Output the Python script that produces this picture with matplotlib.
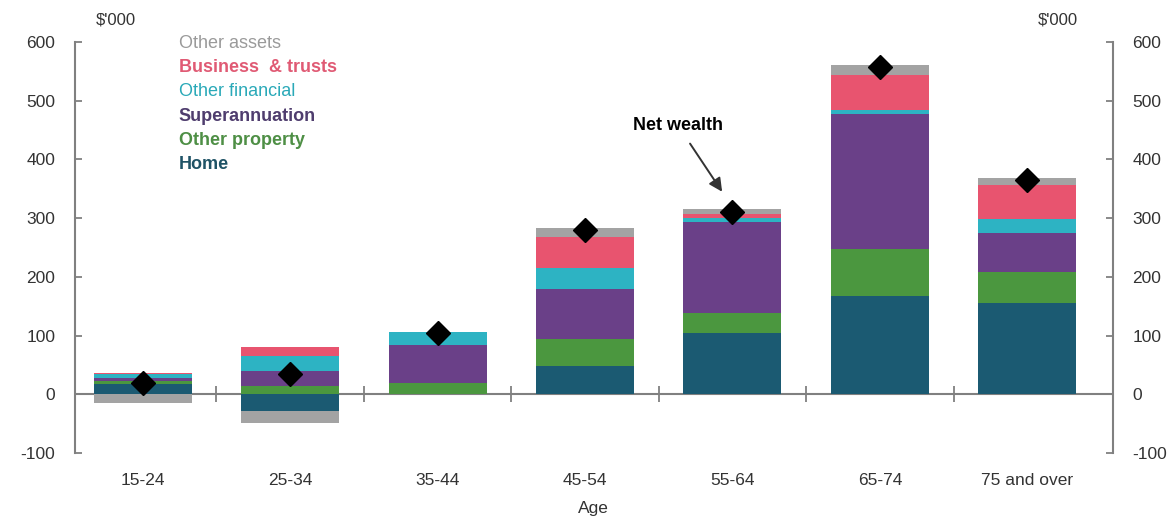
import numpy as np
import matplotlib.pyplot as plt

plt.rcParams['font.family'] = ['Liberation Sans', 'DejaVu Sans']
plt.rcParams['axes.unicode_minus'] = False

ages = ["15-24", "25-34", "35-44", "45-54", "55-64", "65-74", "75 and over"]

home = [17, -28, 0, 48, 104, 167, 155]
other_property = [5, 14, 20, 46, 34, 81, 53]
superannuation = [6, 26, 64, 85, 155, 230, 66]
other_financial = [6, 26, 22, 36, 7, 7, 24]
business = [2, 14, 0, 53, 7, 58, 58]
other_assets = [-15, -21, 0, 15, 8, 17, 12]
net_wealth = [20, 35, 104, 280, 311, 558, 365]

series = [
    ("Home", home, "#1b5a72"),
    ("Other property", other_property, "#4b973f"),
    ("Superannuation", superannuation, "#6a4088"),
    ("Other financial", other_financial, "#2db3c3"),
    ("Business  & trusts", business, "#e8546f"),
    ("Other assets", other_assets, "#a3a3a3"),
]
label_colors = {
    "Home": "#1f5366",
    "Other property": "#4e8f45",
    "Superannuation": "#4f3d6e",
    "Other financial": "#2aa9b8",
    "Business  & trusts": "#e05a74",
    "Other assets": "#9a9a9a",
}

fig = plt.figure(figsize=(11.69, 5.25), dpi=100)
ax = fig.add_axes([0.064, 0.137, 0.888, 0.783])

x = np.arange(len(ages))
pos_base = np.zeros(len(ages))
neg_base = np.zeros(len(ages))
for name, vals, color in series:
    vals = np.array(vals, dtype=float)
    base = np.where(vals >= 0, pos_base, neg_base)
    ax.bar(x, vals, bottom=base, width=0.665, color=color, zorder=2)
    pos_base += np.where(vals >= 0, vals, 0)
    neg_base += np.where(vals < 0, vals, 0)

ax.plot(x, net_wealth, linestyle="none", marker="D", markersize=12,
        color="black", zorder=4)

ax.annotate("Net wealth", xy=(4 - 0.07, 345), xytext=(4 - 0.37, 458),
            ha="center", va="center", fontsize=13, fontweight="bold",
            arrowprops=dict(arrowstyle="-|>", color="#333333", lw=1.4,
                            shrinkA=6, shrinkB=0, mutation_scale=20))

ax.set_xlim(-0.46, 6.58)
ax.set_ylim(-100, 600)
ax.set_yticks(range(-100, 601, 100))
ax.set_xticks(x)
ax.set_xticklabels(ages)

gray = "#808080"
for s in ["top", "bottom"]:
    ax.spines[s].set_visible(False)
for s in ["left", "right"]:
    ax.spines[s].set_color(gray)
    ax.spines[s].set_linewidth(1.5)

ax.tick_params(axis="y", direction="in", length=5, width=1.3, color=gray,
               labelsize=12.5, labelcolor="#333333", right=True, labelright=True,
               pad=14)
ax.tick_params(axis="x", length=0, labelsize=12.5, labelcolor="#333333", pad=14)

# zero line with category separators
ax.axhline(0, color=gray, lw=1.5, zorder=1)
sec = ax.secondary_xaxis(1 / 7)
sec.set_xticks(x[:-1] + 0.5)
sec.set_xticklabels([])
sec.spines["bottom"].set_visible(False)
sec.tick_params(direction="inout", length=12, width=1.3, color=gray)

ax.set_xlabel("Age", fontsize=12.5, color="#333333", labelpad=10)

fig.text(0.082, 0.953, "$'000", fontsize=12, color="#333333", ha="left")
fig.text(0.922, 0.953, "$'000", fontsize=12, color="#333333", ha="right")

legend_y = 0.917
for i, (name, vals, color) in enumerate(reversed(series)):
    weight = "normal" if name in ("Other assets", "Other financial") else "bold"
    fig.text(0.153, legend_y - i * 0.046, name, fontsize=13,
             color=label_colors[name], fontweight=weight, va="center")

fig.savefig("out.png", dpi=100)
